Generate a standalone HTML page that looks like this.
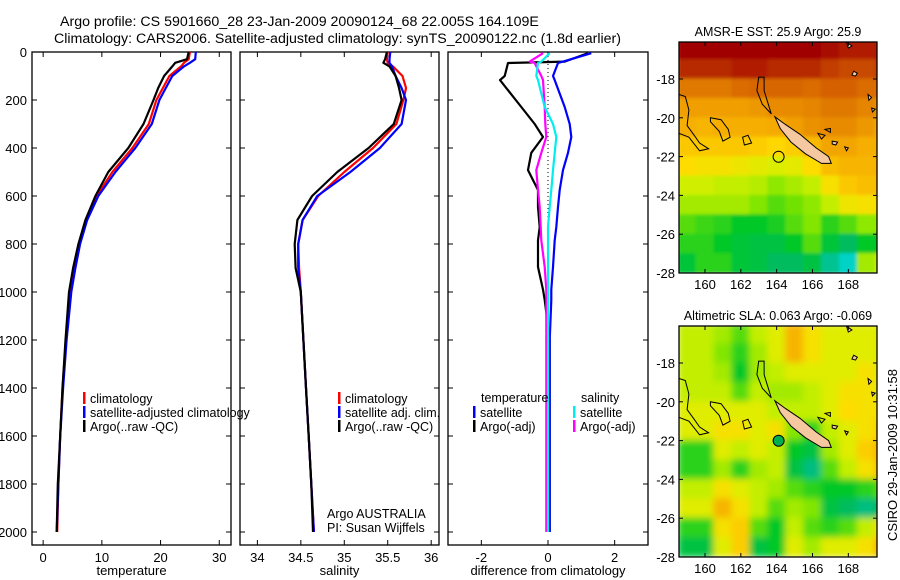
<!DOCTYPE html>
<html><head><meta charset="utf-8">
<style>
body{margin:0;background:#fff;}
svg{display:block;font-family:"Liberation Sans",sans-serif;}
text{fill:#000;}
</style></head>
<body>
<svg id="fig" width="900" height="580" viewBox="0 0 900 580" xmlns="http://www.w3.org/2000/svg">
<text x="60" y="26" font-size="14.2">Argo profile: CS 5901660_28 23-Jan-2009 20090124_68 22.005S 164.109E</text>
<text x="54" y="43" font-size="14.2">Climatology: CARS2006. Satellite-adjusted climatology: synTS_20090122.nc (1.8d earlier)</text>
<g id="panels"></g>
<g id="maps"></g>
<text transform="translate(897,455) rotate(-90)" text-anchor="middle" font-size="13">CSIRO 29-Jan-2009 10:31:58</text>
</svg>
<script>
// ---- data ----
const depths = [0,30,45,60,100,150,200,300,400,500,600,700,800,900,1000,1200,1400,1600,1800,2000];
const tempClim = [25.0,24.8,24.0,23.5,21.5,20.4,19.3,18.0,15.2,11.8,9.1,7.3,6.1,5.3,4.6,3.9,3.3,2.9,2.6,2.4];
const tempSat  = [26.0,25.9,25.0,24.0,22.0,20.9,19.8,18.5,15.7,12.3,9.4,7.5,6.3,5.5,4.8,4.0,3.4,2.9,2.6,2.3];
const tempArgo = [24.8,24.5,22.5,22.0,20.6,19.6,18.8,17.1,14.5,11.1,8.9,7.2,6.0,5.1,4.4,3.8,3.3,2.9,2.5,2.3];
const salClim = [35.50,35.49,35.50,35.56,35.67,35.71,35.68,35.60,35.33,35.00,34.70,34.52,34.47,34.48,34.50,34.53,34.56,34.59,34.62,34.65];
const salSat  = [35.53,35.52,35.52,35.55,35.59,35.66,35.71,35.66,35.41,35.07,34.69,34.52,34.47,34.47,34.50,34.53,34.56,34.59,34.62,34.65];
const salArgo = [35.49,35.47,35.45,35.52,35.59,35.63,35.66,35.57,35.28,34.92,34.63,34.46,34.43,34.44,34.50,34.53,34.56,34.59,34.62,34.64];
const diffDepths = [5,40,46,100,117,229,300,354,420,492,575,646,729,785,896,990,1033,1200,1500,2000];
const dTempSat  = [1.3,0.45,0.3,0.15,0.2,0.5,0.65,0.7,0.6,0.45,0.35,0.3,0.25,0.2,0.15,0.1,0.1,0.05,0.05,0.05];
const dTempArgo = [1.2,0.5,-1.2,-1.3,-1.44,-0.8,-0.4,-0.15,-0.5,-0.6,-0.3,-0.3,-0.25,-0.3,-0.3,-0.15,-0.1,0.05,0.05,0.05];
const dSalSat   = [0.05,-0.2,-0.3,-0.35,-0.3,-0.1,0.15,0.25,0.2,0.15,0.1,0.05,0.0,0.0,0.0,0.0,0.0,0.0,0.0,0.0];
const dSalArgo  = [-0.15,-0.55,-0.4,-0.2,-0.15,-0.1,-0.08,-0.05,-0.2,-0.35,-0.3,-0.25,-0.22,-0.2,-0.1,-0.05,-0.05,-0.05,-0.05,-0.05];
const depthTicks = [0,200,400,600,800,1000,1200,1400,1600,1800,2000];
const tempTicks = [0,10,20,30];
const salTicks = [34,34.5,35,35.5,36];
const salTickLabels = ["34","34.5","35","35.5","36"];
const diffTicks = [-2,0,2];
const lonTicks = [160,162,164,166,168];
const latTicks = [18,20,22,24,26,28];
const sstGrid = [
[1.0,1.0,1.0,1.0,1.0,1.0,1.0,1.0,0.98,0.95,0.95,0.95],
[0.93,0.93,0.93,0.95,0.95,0.93,0.93,0.93,0.9,0.88,0.88,0.9],
[0.8,0.8,0.8,0.82,0.83,0.83,0.83,0.82,0.84,0.84,0.82,0.82],
[0.74,0.74,0.74,0.74,0.75,0.77,0.77,0.78,0.8,0.8,0.78,0.76],
[0.71,0.7,0.71,0.71,0.71,0.72,0.74,0.76,0.77,0.77,0.75,0.72],
[0.66,0.66,0.66,0.66,0.65,0.63,0.65,0.69,0.73,0.73,0.71,0.71],
[0.62,0.6,0.6,0.58,0.56,0.54,0.56,0.62,0.68,0.7,0.7,0.7],
[0.52,0.52,0.5,0.5,0.48,0.42,0.46,0.5,0.6,0.66,0.68,0.68],
[0.45,0.45,0.45,0.45,0.4,0.35,0.38,0.42,0.5,0.58,0.6,0.6],
[0.35,0.32,0.3,0.25,0.25,0.28,0.35,0.4,0.3,0.35,0.42,0.42],
[0.3,0.3,0.25,0.22,0.2,0.2,0.25,0.35,0.22,0.15,0.25,0.25],
[0.22,0.3,0.3,0.22,0.2,0.15,0.15,0.2,0.08,0.02,0.45,0.5]
];
const slaGrid = [
[0.5,0.5,0.45,0.35,0.5,0.55,0.7,0.6,0.55,0.55,0.55,0.55],
[0.5,0.5,0.4,0.3,0.45,0.55,0.7,0.6,0.55,0.55,0.55,0.55],
[0.5,0.5,0.45,0.25,0.45,0.5,0.55,0.55,0.55,0.55,0.6,0.55],
[0.5,0.5,0.5,0.35,0.5,0.45,0.45,0.5,0.55,0.6,0.6,0.55],
[0.55,0.55,0.55,0.55,0.55,0.5,0.5,0.5,0.55,0.62,0.6,0.6],
[0.55,0.55,0.6,0.6,0.55,0.6,0.4,0.3,0.5,0.55,0.6,0.65],
[0.3,0.3,0.55,0.5,0.55,0.5,0.25,0.2,0.45,0.55,0.65,0.7],
[0.3,0.3,0.45,0.3,0.45,0.5,0.2,0.1,0.35,0.5,0.6,0.68],
[0.5,0.5,0.6,0.55,0.5,0.45,0.35,0.3,0.25,0.25,0.3,0.35],
[0.55,0.55,0.7,0.6,0.5,0.35,0.45,0.4,0.2,0.15,0.1,0.15],
[0.3,0.3,0.6,0.65,0.35,0.25,0.5,0.35,0.3,0.35,0.5,0.6],
[0.2,0.2,0.55,0.65,0.2,0.25,0.55,0.45,0.55,0.55,0.6,0.7]
];
const argoLon = 164.109, argoLat = 22.005;
</script>
<script>
const NS="http://www.w3.org/2000/svg";
function mk(tag, attrs, parent){const e=document.createElementNS(NS,tag);for(const k in attrs)e.setAttribute(k,attrs[k]);parent.appendChild(e);return e;}
const panels=document.getElementById('panels');
const yTop=52, yBot=545;
function yD(d){return yTop + d*0.24;}
function panel(name,x0,x1,vmin,vmax,ticks,tickLabels,xlabel,showY){
  const g=mk('g',{},panels);
  
  
  const xs=v=>x0+(v-vmin)/(vmax-vmin)*(x1-x0);
  const fr=mk('rect',{x:x0,y:yTop,width:x1-x0,height:yBot-yTop,fill:'none',stroke:'#000','stroke-width':1.3},g);
  
  
  depthTicks.forEach(d=>{
    const y=yD(d);
    mk('line',{x1:x0,x2:x0+5,y1:y,y2:y,stroke:'#000'},g);
    mk('line',{x1:x1-5,x2:x1,y1:y,y2:y,stroke:'#000'},g);
    if(showY){const t=mk('text',{x:x0-5,y:y+5,'text-anchor':'end','font-size':13},g);t.textContent=d;
      
      }
  });
  ticks.forEach((v,i)=>{
    const x=xs(v);
    mk('line',{x1:x,x2:x,y1:yBot,y2:yBot-5,stroke:'#000'},g);
    mk('line',{x1:x,x2:x,y1:yTop,y2:yTop+5,stroke:'#000'},g);
    const t=mk('text',{x:x,y:yBot+17,'text-anchor':'middle','font-size':13},g);t.textContent=tickLabels[i];
    
    
  });
  const xl=mk('text',{x:(x0+x1)/2,y:575,'text-anchor':'middle','font-size':13},g);xl.textContent=xlabel;
  
  
  return {g,xs};
}
function series(p,dep,vals,color,name,w){
  const pts=dep.map((d,i)=>p.xs(vals[i]).toFixed(1)+','+yD(d).toFixed(1)).join(' ');
  const l=mk('polyline',{points:pts,fill:'none',stroke:color,'stroke-width':w||2.2,'stroke-linejoin':'round'},p.g);
  
  
}
function legend(g,x,y,color,label){
  mk('rect',{x:x,y:y-10,width:2.5,height:12,fill:color},g);
  const t=mk('text',{x:x+7,y:y+1,'font-size':12.5},g);t.textContent=label;
  
  
}
const p1=panel('temperature-panel',32,231,-1.9,32,tempTicks,tempTicks.map(String),'temperature',true);
series(p1,depths,tempClim,'#f00','temp-climatology-line');
series(p1,depths,tempSat,'#00f','temp-satellite-line');
series(p1,depths,tempArgo,'#000','temp-argo-line');
legend(p1.g,83,402,'#f00','climatology');
legend(p1.g,83,416,'#00f','satellite-adjusted climatology');
legend(p1.g,83,430,'#000','Argo(..raw -QC)');
const p2=panel('salinity-panel',240,439,33.8,36.09,salTicks,salTickLabels,'salinity',false);
series(p2,depths,salClim,'#f00','sal-climatology-line');
series(p2,depths,salSat,'#00f','sal-satellite-line');
series(p2,depths,salArgo,'#000','sal-argo-line');
legend(p2.g,338,402,'#f00','climatology');
legend(p2.g,338,416,'#00f','satellite adj. clim.');
legend(p2.g,338,430,'#000','Argo(..raw -QC)');
{const t=mk('text',{x:327,y:518,'font-size':12.5},p2.g);t.textContent='Argo AUSTRALIA';


const t2=mk('text',{x:327,y:532,'font-size':12.5},p2.g);t2.textContent='PI: Susan Wijffels';

}
const p3=panel('difference-panel',448,648,-3,3,diffTicks,diffTicks.map(String),'difference from climatology',false);
{const z=mk('line',{x1:p3.xs(0),x2:p3.xs(0),y1:yD(0),y2:yD(1100),stroke:'#000','stroke-dasharray':'1,3'},p3.g);

}
series(p3,diffDepths,dTempArgo,'#000','dtemp-argo-line');
series(p3,diffDepths,dTempSat,'#00f','dtemp-satellite-line');
series(p3,diffDepths,dSalArgo,'#f0f','dsal-argo-line');
series(p3,diffDepths,dSalSat,'#0ee','dsal-satellite-line');
{const t=mk('text',{x:481,y:402,'font-size':12.5},p3.g);t.textContent='temperature';


const t2=mk('text',{x:581,y:402,'font-size':12.5},p3.g);t2.textContent='salinity';

}
legend(p3.g,473,416,'#00f','satellite');
legend(p3.g,473,430,'#000','Argo(-adj)');
legend(p3.g,573,416,'#0ee','satellite');
legend(p3.g,573,430,'#f0f','Argo(-adj)');

const stops=[[0,[0,215,215]],[0.12,[0,185,110]],[0.25,[0,200,40]],[0.4,[130,230,0]],[0.53,[215,240,0]],[0.62,[255,220,0]],[0.72,[245,170,0]],[0.85,[210,90,0]],[1,[160,0,0]]];
function cmap(v){for(let i=1;i<stops.length;i++){if(v<=stops[i][0]){const a=stops[i-1],b=stops[i];const t=(v-a[0])/(b[0]-a[0]);return 'rgb('+a[1].map((c,k)=>Math.round(c+(b[1][k]-c)*t)).join(',')+')';}}return 'rgb(160,0,0)';}
const maps=document.getElementById('maps');
const defs=mk('defs',{},maps);
const bl=mk('filter',{id:'blur',x:'-10%',y:'-10%',width:'120%',height:'120%'},defs);
mk('feGaussianBlur',{stdDeviation:3.5},bl);
const bl2=mk('filter',{id:'blur2',x:'-10%',y:'-10%',width:'120%',height:'120%'},defs);
mk('feGaussianBlur',{stdDeviation:1.5},bl2);
const lon0=158.55, lon1=169.6, mx0=679, mx1=877;
function mapPanel(name,yT,yB,grid,title,smooth){
  const lat0=28-(yB-yT)/19.4;
  const lx=lon=>mx0+(lon-lon0)/(lon1-lon0)*(mx1-mx0);
  const ly=lat=>yT+(lat-lat0)/(28-lat0)*(yB-yT);
  const g=mk('g',{},maps);
  
  
  const cid=name+'-clip';
  const cp=mk('clipPath',{id:cid},defs);mk('rect',{x:mx0,y:yT,width:mx1-mx0,height:yB-yT},cp);
  const cg=mk('g',{'clip-path':'url(#'+cid+')'},g);
  const hg=mk('g',{filter:smooth?'url(#blur)':'url(#blur2)'},cg);
  grid.forEach((row,r)=>row.forEach((v,c)=>{
    const lat=16+r, lon=158.5+c;
    const cell=mk('rect',{x:lx(lon)-0.5,y:ly(lat)-0.5,width:lx(lon+1)-lx(lon)+1,height:ly(lat+1)-ly(lat)+1,fill:cmap(v)},hg);
    
    
  }));
  const P=pts=>pts.map(p=>lx(p[0]).toFixed(1)+','+ly(p[1]).toFixed(1)).join(' ');
  const nc=mk('polygon',{points:P([[163.9,19.95],[164.5,20.35],[165.3,20.85],[166.2,21.55],[166.9,22.0],[167.05,22.35],[166.5,22.35],[165.6,21.85],[164.8,21.25],[164.2,20.55]]),fill:'#f6c8a0',stroke:'#000','stroke-width':1},cg);
  
  
  const isl=[[[167.9,16.1],[168.2,16.3],[168.0,16.4]],[[168.3,17.6],[168.5,17.7],[168.4,17.85],[168.2,17.8]],[[169.1,18.8],[169.3,18.95],[169.15,19.1]],[[169.3,19.5],[169.5,19.55],[169.35,19.7]],[[167.1,21.2],[167.4,21.25],[167.3,21.4],[167.1,21.35]],[[167.8,21.5],[168.0,21.55],[167.9,21.7]]];
  isl.forEach(pp=>{const e=mk('polygon',{points:P(pp),fill:'#f6c8a0',stroke:'#000','stroke-width':1},cg);
    
    });
  const coast=[[[158.55,18.8],[158.9,18.9],[159.1,19.6],[159.0,20.4],[159.4,20.9],[159.7,21.3],[160.2,21.6],[159.7,21.7],[159.1,21.0],[158.55,20.8]],
    [[160.3,20.0],[160.9,20.1],[161.3,20.6],[161.4,21.0],[161.0,21.2],[160.8,20.7],[160.3,20.2]],
    [[162.1,21.0],[162.4,20.9],[162.6,21.3],[162.2,21.4]],
    [[163.0,17.9],[163.3,17.9],[163.3,18.6],[163.5,19.2],[163.7,19.8],[163.2,19.3],[162.9,18.6]],
    [[166.3,20.8],[166.7,20.9],[166.5,21.1]],
    [[166.7,20.6],[167.0,20.55],[167.0,20.75]]];
  coast.forEach(pp=>{const e=mk('polygon',{points:P(pp),fill:'none',stroke:'#000','stroke-width':1},cg);
    
    });
  const ci=mk('circle',{cx:lx(argoLon),cy:ly(argoLat),r:5.5,fill:smooth?'#00b050':'none',stroke:'#000','stroke-width':1},g);
  
  
  const fr=mk('rect',{x:mx0,y:yT,width:mx1-mx0,height:yB-yT,fill:'none',stroke:'#000','stroke-width':1.3},g);
  
  
  lonTicks.forEach(lon=>{const x=lx(lon);
    mk('line',{x1:x,x2:x,y1:yB,y2:yB-4,stroke:'#000'},g);mk('line',{x1:x,x2:x,y1:yT,y2:yT+4,stroke:'#000'},g);
    const t=mk('text',{x:x,y:yB+16,'text-anchor':'middle','font-size':13},g);t.textContent=lon;
    
    });
  latTicks.forEach(lat=>{const y=ly(lat);
    mk('line',{x1:mx0,x2:mx0+4,y1:y,y2:y,stroke:'#000'},g);mk('line',{x1:mx1-4,x2:mx1,y1:y,y2:y,stroke:'#000'},g);
    const t=mk('text',{x:mx0-4,y:y+5,'text-anchor':'end','font-size':13},g);t.textContent='-'+lat;
    
    });
  const tt=mk('text',{x:(mx0+mx1)/2,y:yT-6,'text-anchor':'middle','font-size':12.5},g);tt.textContent=title;
  
  
}
mapPanel('sst-map',42,273,sstGrid,'AMSR-E SST: 25.9 Argo: 25.9',false);
mapPanel('sla-map',326,557,slaGrid,'Altimetric SLA: 0.063 Argo: -0.069',true);
</script>
</body></html>
